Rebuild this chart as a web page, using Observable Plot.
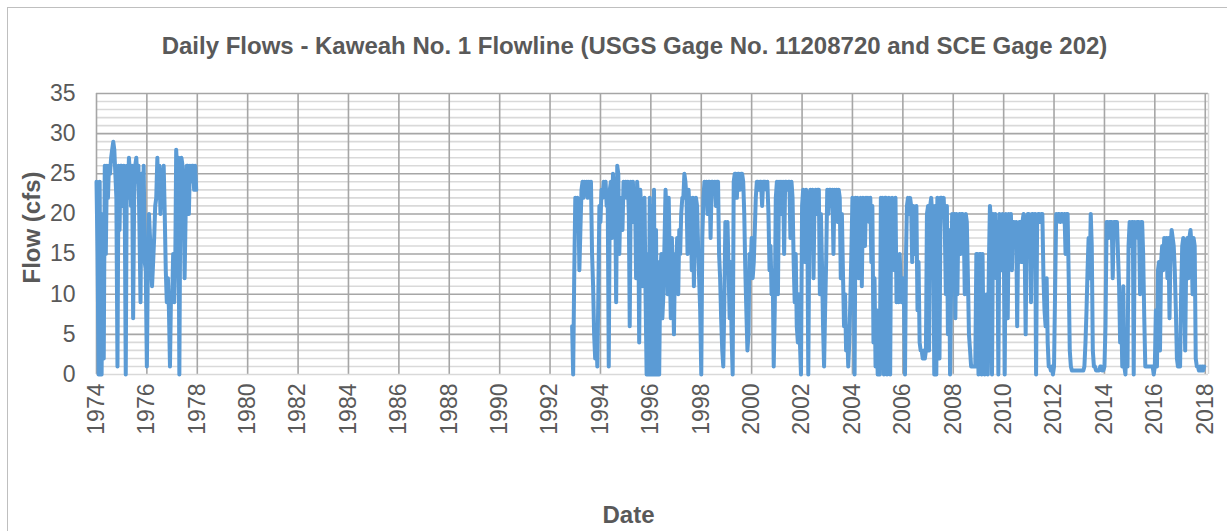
<!DOCTYPE html>
<html><head><meta charset="utf-8">
<script src="https://cdn.jsdelivr.net/npm/d3@7"></script>
<script src="https://cdn.jsdelivr.net/npm/@observablehq/plot@0.6"></script>
<style>
html,body{margin:0;padding:0;background:#fff;}
#wrap{position:relative;width:1227px;height:531px;overflow:hidden;}
#border{position:absolute;left:7px;top:7px;width:1300px;height:600px;border-left:1px solid #bfbfbf;border-top:1px solid #bfbfbf;}
#chart{position:absolute;left:0;top:0;}
</style></head><body>
<div id="wrap"><div id="border"></div><div id="chart"></div></div>
<script>
const titleText = "Daily Flows - Kaweah No. 1 Flowline (USGS Gage No. 11208720 and SCE Gage 202)";
const yTitle = "Flow (cfs)";
const xTitle = "Date";
const tickYears = [1974,1976,1978,1980,1982,1984,1986,1988,1990,1992,1994,1996,1998,2000,2002,2004,2006,2008,2010,2012,2014,2016,2018];
const yTicks = [0,5,10,15,20,25,30,35];
const yMinorTicks = [1,2,3,4,6,7,8,9,11,12,13,14,16,17,18,19,21,22,23,24,26,27,28,29,31,32,33,34];

// semi-monthly readings (1st and 16th of each month), cfs
const f1974 = [24,15,0,24,0,0,20,2,26,15,26,22,26,25,27,28,29,28,25,22,1,26,18,26];
const f1975 = [26,21,26,19,0,26,22,27,25,21,26,7,22,26,27,24,26,18,9,25,16,26,14,13];
const f1976 = [1,14,20,17,14,11,14,17,21,22,27,22,26,20,25,24,26,20,13,9,12,8,1,10];
const f1977 = [9,15,9,14,28,25,27,0,24,27,26,22,12,20,26,26,20,26,24,26,26,23,26,23];
const f1992 = [null,null,null,null,null,null,null,null,null,null,null,null,null,null,null,null,null,null,null,null,null,6,0,12];
const f1993 = [22,18,22,21,13,18,23,24,22,24,23,24,22,24,23,24,15,11,5,2,6,1,10,21];
const f1994 = [19,23,22,24,23,24,21,22,1,23,24,17,25,22,24,9,26,25,15,21,22,18,24,23];
const f1995 = [24,22,24,20,6,24,23,24,19,23,12,24,22,4,23,20,11,17,22,10,0,15,0,22];
const f1996 = [0,21,0,23,0,18,0,14,0,12,15,7,10,16,23,20,10,22,14,7,17,12,5,15];
const f1997 = [12,17,10,18,15,20,22,22,25,24,22,15,23,20,22,13,22,11,18,22,21,16,12,8];
const f1998 = [0,17,22,24,23,24,20,24,24,17,24,24,23,24,21,24,24,15,12,7,3,1,9,19];
const f1999 = [14,19,13,7,14,5,0,24,25,25,22,25,25,23,25,25,24,20,13,8,3,5,15,13];
const f2000 = [17,12,14,18,22,24,24,23,24,24,21,24,24,24,23,24,20,13,16,10,13,1,8,22];
const f2001 = [24,10,24,22,24,20,24,15,24,24,23,24,24,17,24,22,14,9,15,6,4,10,4,0];
const f2002 = [21,23,22,14,23,22,0,18,23,22,23,12,22,23,20,23,23,10,20,14,6,1,8,14];
const f2003 = [23,20,23,23,21,23,15,23,22,23,19,23,22,12,20,13,6,10,3,6,1,4,9,15];
const f2004 = [22,21,0,22,20,22,12,21,22,11,22,20,16,22,21,22,19,22,14,21,4,12,1,8];
const f2005 = [0,3,0,22,21,22,0,22,22,0,21,22,0,21,22,21,13,22,9,13,9,15,11,9];
const f2006 = [12,10,0,15,21,22,20,22,21,14,21,20,15,21,8,14,4,3,3,2,3,2,3,20];
const f2007 = [21,3,21,22,20,21,0,21,0,22,21,2,22,22,20,22,18,10,21,5,18,0,11,20];
const f2008 = [19,20,7,20,10,19,20,15,20,20,19,10,20,19,12,5,3,1,1,1,1,1,15,15];
const f2009 = [0,15,15,0,15,3,0,1,10,0,14,21,19,0,20,18,20,12,19,0,20,19,13,20];
const f2010 = [19,0,20,19,7,20,19,20,13,19,19,17,19,6,18,19,19,14,19,20,16,5,19,20];
const f2011 = [20,19,9,20,20,19,20,0,19,20,20,19,20,20,12,8,6,12,4,1,1,0.5,1,0];
const f2012 = [1,10,20,19,20,20,19,20,20,19,20,15,20,20,12,3,1,0.5,0.5,0.5,0.5,0.5,0.5,0.5];
const f2013 = [0.5,0.5,0.5,0.5,0.5,1,4,8,13,17,12,20,16,3,1,1,0.5,0.5,0.5,0.5,1,1,0.5,0.5];
const f2014 = [1,6,19,19,17,19,19,19,12,19,19,19,19,15,11,4,8,1,11,1,0,5,1,16];
const f2015 = [19,16,19,19,0,19,17,19,19,19,10,19,19,15,7,1,1,1,1,1,1,1,1,0];
const f2016 = [1,8,1,13,14,3,14,16,13,17,15,17,12,17,7,16,18,17,16,13,8,2,1,1];
const f2017 = [1,10,16,17,11,3,15,17,12,17,18,16,10,17,16,2,1,1,0.5,1,0.5,1,0.5,1];

const series = [[1974,f1974],[1975,f1975],[1976,f1976],[1977,f1977],[1992,f1992],[1993,f1993],[1994,f1994],
  [1995,f1995],[1996,f1996],[1997,f1997],[1998,f1998],[1999,f1999],[2000,f2000],[2001,f2001],[2002,f2002],
  [2003,f2003],[2004,f2004],[2005,f2005],[2006,f2006],[2007,f2007],[2008,f2008],[2009,f2009],[2010,f2010],
  [2011,f2011],[2012,f2012],[2013,f2013],[2014,f2014],[2015,f2015],[2016,f2016],[2017,f2017]];

const table = [];
for (const [yr, vals] of series) {
  vals.forEach((v, i) => table.push({date: new Date(Date.UTC(yr, Math.floor(i / 2), i % 2 ? 16 : 1)), flow: v}));
}
const tickDates = tickYears.map(y => new Date(Date.UTC(y, 0, 1)));
const xMin = new Date(Date.UTC(1974, 0, 1));
const xMax = new Date(Date.UTC(2018, 1, 17));
const textColor = "#595959";

const chart = Plot.plot({
  width: 1227, height: 531,
  marginLeft: 96, marginRight: 19, marginTop: 93, marginBottom: 157,
  style: {fontFamily: "'Liberation Sans', Arial, sans-serif", background: "transparent", color: textColor},
  x: {type: "utc", domain: [xMin, xMax]},
  y: {domain: [0, 35]},
  marks: [
    Plot.gridY(yMinorTicks, {stroke: "#d9d9d9", strokeOpacity: 1, strokeWidth: 1.6}),
    Plot.gridY(yTicks.filter(t => t > 0), {stroke: "#a6a6a6", strokeOpacity: 1, strokeWidth: 1.6}),
    Plot.gridX(tickDates, {stroke: "#a6a6a6", strokeOpacity: 1, strokeWidth: 1.6}),
    Plot.ruleX([xMax], {stroke: "#d9d9d9", strokeWidth: 1.5}),
    Plot.ruleY([0], {stroke: "#d9d9d9", strokeWidth: 1.6}),
    Plot.line(table, {x: "date", y: "flow", stroke: "#5b9bd5", strokeWidth: 4, strokeLinejoin: "round", strokeLinecap: "round"}),
    Plot.axisY(yTicks, {tickSize: 0, tickPadding: 21, fontSize: 23, label: null, fill: textColor}),
    Plot.axisX(tickDates, {tickSize: 0, tickPadding: 9, tickRotate: -90, tickFormat: d3.utcFormat("%Y"), fontSize: 23, label: null, fill: textColor}),
    Plot.text([titleText], {text: d => d, frameAnchor: "top-left", dx: 538, dy: -40, textAnchor: "middle", lineAnchor: "bottom", fontSize: 24, fontWeight: "bold", fill: textColor}),
    Plot.text([yTitle], {text: d => d, frameAnchor: "top-left", dx: -57, dy: 134, rotate: -90, textAnchor: "middle", lineAnchor: "bottom", fontSize: 24, fontWeight: "bold", fill: textColor}),
    Plot.text([xTitle], {text: d => d, frameAnchor: "bottom-left", dx: 532, dy: 148, textAnchor: "middle", lineAnchor: "bottom", fontSize: 24, fontWeight: "bold", fill: textColor})
  ]
});
document.getElementById("chart").appendChild(chart);
</script>
</body></html>
